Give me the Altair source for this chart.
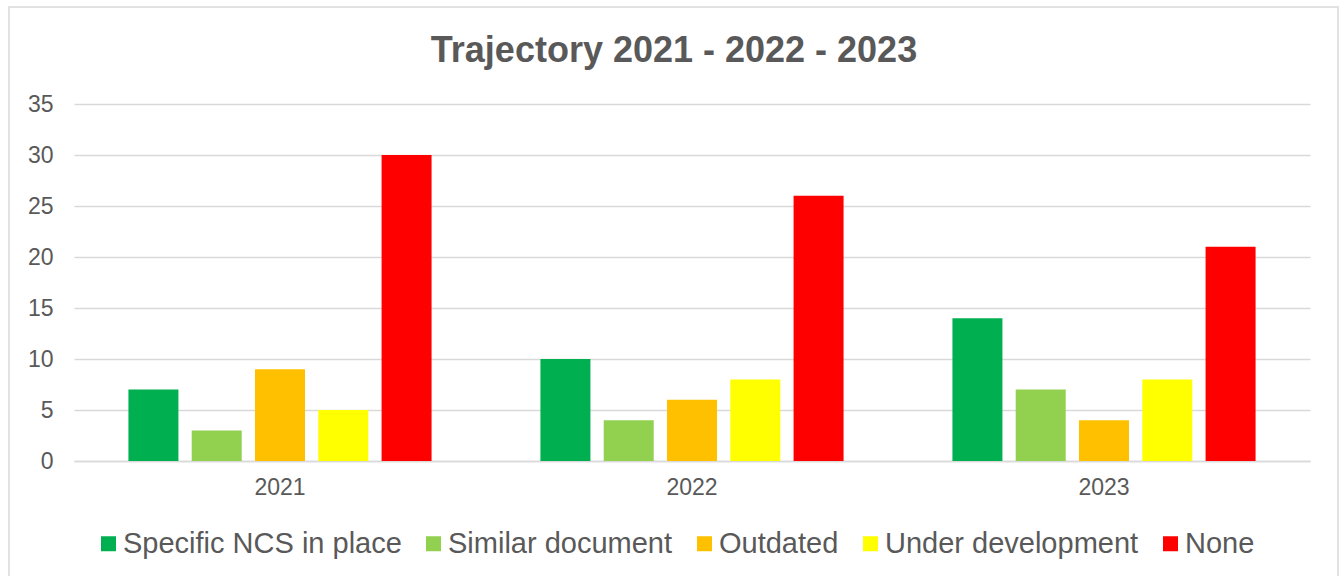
import altair as alt
import pandas as pd

years = ["2021", "2022", "2023"]
categories = ["Specific NCS in place", "Similar document", "Outdated", "Under development", "None"]
colors = ["#00B050", "#92D050", "#FFC000", "#FFFF00", "#FF0000"]
values = {
    "2021": [7, 3, 9, 5, 30],
    "2022": [10, 4, 6, 8, 26],
    "2023": [14, 7, 4, 8, 21],
}

rows = []
for y in years:
    for c, v in zip(categories, values[y]):
        rows.append({"Year": y, "Status": c, "Value": v})
df = pd.DataFrame(rows)

FONT = "Liberation Sans"
GRAY = "#595959"
GRID = "#D9D9D9"

bars = alt.Chart(df).mark_bar(strokeWidth=0).encode(
    x=alt.X("Year:N", sort=years, title=None,
            scale=alt.Scale(paddingInner=0, paddingOuter=0),
            axis=alt.Axis(labelAngle=0, labelFontSize=23, labelColor=GRAY, labelFont=FONT,
                          ticks=False, domain=True, domainColor=GRID, domainWidth=1.3,
                          labelPadding=15)),
    xOffset=alt.XOffset("Status:N", sort=categories,
                        scale=alt.Scale(paddingInner=0.21, paddingOuter=0.86)),
    y=alt.Y("Value:Q", title=None,
            scale=alt.Scale(domain=[0, 35], nice=False),
            axis=alt.Axis(values=[0, 5, 10, 15, 20, 25, 30, 35], labelFontSize=23,
                          labelColor=GRAY, labelFont=FONT, ticks=False, domain=False,
                          gridColor=GRID, gridWidth=1.3, labelPadding=21)),
    color=alt.Color("Status:N", sort=categories,
                    scale=alt.Scale(domain=categories, range=colors),
                    legend=alt.Legend(title=None, orient="none", direction="horizontal",
                                      legendX=20, legendY=425, labelLimit=0,
                                      labelFontSize=29, labelColor=GRAY, labelFont=FONT,
                                      symbolType="square", symbolSize=225, symbolStrokeWidth=0,
                                      labelOffset=0, columnPadding=17)),
)

border = alt.Chart(alt.Data(values=[{}])).mark_rect(
    fill=None, stroke=GRID, strokeWidth=1.5
).encode(
    x=alt.value(-65), x2=alt.value(1264), y=alt.value(-97), y2=alt.value(600)
)

chart = alt.layer(border, bars).properties(
    width=1236, height=357,
    background="white",
    title=alt.TitleParams("Trajectory 2021 - 2022 - 2023", fontSize=36, fontWeight="bold",
                          color=GRAY, font=FONT, anchor="middle", dx=-18, offset=-92,
                          baseline="alphabetic"),
    padding={"left": 74, "top": 104, "right": 31, "bottom": 115},
    autosize=alt.AutoSizeParams(type="none"),
).configure_view(stroke=None, strokeWidth=0)

chart.save("out.html", embed_options={"renderer": "svg", "actions": False})
